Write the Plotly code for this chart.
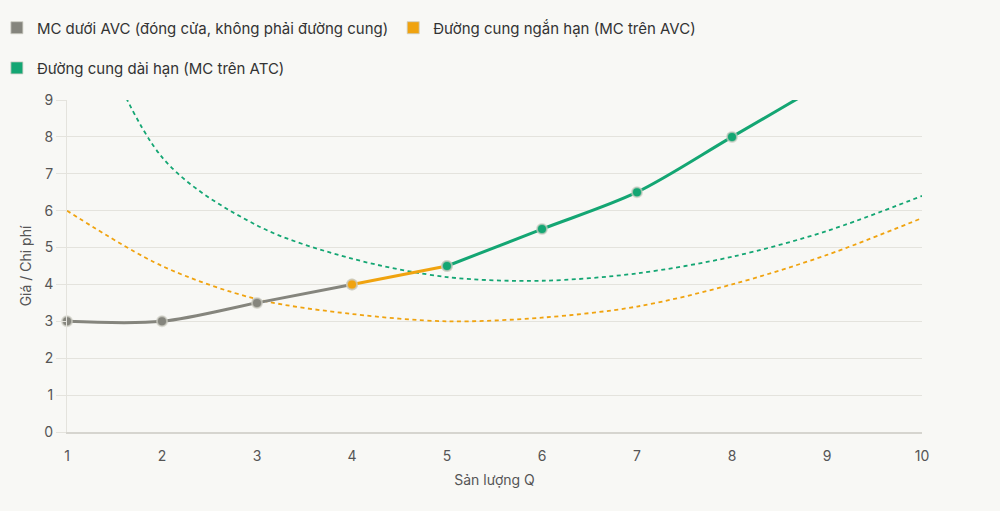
import plotly.graph_objects as go

# Sản lượng và chi phí
q = [1, 2, 3, 4, 5, 6, 7, 8, 9, 10]
mc = [3, 3, 3.5, 4, 4.5, 5.5, 6.5, 8, 9.5, 11]
avc = [6, 4.5, 3.6, 3.2, 3.0, 3.1, 3.4, 4.0, 4.8, 5.8]
atc = [12.8, 7.45, 5.6, 4.7, 4.2, 4.1, 4.3, 4.75, 5.45, 6.4]

# đoạn MC theo vùng
q_shut, mc_shut = q[0:4], mc[0:4]
q_short, mc_short = q[3:5], mc[3:5]
q_long, mc_long = q[4:], mc[4:]

GRAY = "#85857d"
ORANGE = "#f0a30f"
GREEN = "#14a673"
BG = "#f8f8f5"
FONT = "Inter"

fig = go.Figure()

fig.add_trace(go.Scatter(x=q, y=avc, mode="lines", line=dict(color=ORANGE, width=1.8, dash="4px,3.5px", shape="spline", smoothing=0.9),
                         showlegend=False, hoverinfo="skip"))
fig.add_trace(go.Scatter(x=q, y=atc, mode="lines", line=dict(color=GREEN, width=1.8, dash="4px,3.5px", shape="spline", smoothing=0.9),
                         showlegend=False, hoverinfo="skip"))

segments = [
    (q_shut, mc_shut, GRAY, "MC dưới AVC (đóng cửa, không phải đường cung)", "legend", False),
    (q_short, mc_short, ORANGE, "Đường cung ngắn hạn (MC trên AVC)", "legend", False),
    (q_long, mc_long, GREEN, "Đường cung dài hạn (MC trên ATC)", "legend2", True),
]

for xs, ys, col, name, lg, clip in segments:
    fig.add_trace(go.Scatter(
        x=xs, y=ys, mode="lines+markers", name=name, showlegend=False, cliponaxis=clip,
        line=dict(color=col, width=3, shape="spline", smoothing=0.9),
        marker=dict(size=10, color=col, line=dict(color="rgba(205,205,195,0.7)", width=2)),
    ))
    # mục chú thích dạng ô vuông
    fig.add_trace(go.Scatter(
        x=[None], y=[None], mode="markers", name=name, legend=lg,
        marker=dict(symbol="square", size=12, color=col, line=dict(color="rgba(205,205,195,0.8)", width=1)),
    ))

LEG_X = -0.082
fig.update_layout(
    width=1000, height=511,
    paper_bgcolor=BG, plot_bgcolor=BG,
    margin=dict(l=67, r=78, t=100, b=79, autoexpand=False),
    font=dict(family=FONT, size=15, color="#333333"),
    legend=dict(orientation="h", x=LEG_X, xanchor="left", y=1.217, yanchor="middle",
                font=dict(size=15, color="#333333"), itemwidth=30, bgcolor="rgba(0,0,0,0)"),
    legend2=dict(orientation="h", x=LEG_X, xanchor="left", y=1.096, yanchor="middle",
                 font=dict(size=15, color="#333333"), itemwidth=30, bgcolor="rgba(0,0,0,0)"),
    xaxis=dict(
        title=dict(text="Sản lượng Q", font=dict(size=14, color="#555555"), standoff=13),
        range=[1, 10], tickmode="linear", dtick=1, showgrid=False, automargin=False,
        showline=True, linecolor="#d6d5cf", linewidth=1.5, zeroline=False,
        ticks="", ticklabelstandoff=10, tickfont=dict(size=14, color="#555555"),
    ),
    yaxis=dict(
        title=dict(text="Giá / Chi phí", font=dict(size=14, color="#555555"), standoff=9),
        range=[0, 9], tickmode="linear", dtick=1, showgrid=True, gridcolor="#e4e3dd", gridwidth=1,
        showline=True, linecolor="#e4e3dd", linewidth=1, zeroline=False, automargin=False,
        ticks="outside", ticklen=10, tickcolor="#e4e3dd", tickfont=dict(size=14, color="#555555"),
    ),
)

fig.write_html("out.html", config={"displayModeBar": False},
               post_script="document.body.style.margin='0';")
